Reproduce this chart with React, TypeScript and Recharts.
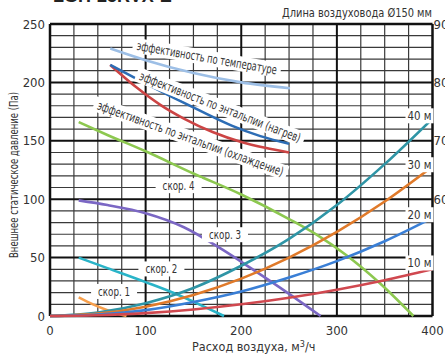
import { LineChart, Line, XAxis, YAxis, ReferenceLine, ReferenceDot } from 'recharts'

// fan curves, Pa vs m3/h
const speed1 = [
  { x: 30, y: 16 }, { x: 45, y: 10 }, { x: 60, y: 5 }, { x: 80, y: 0 },
]
const speed2 = [
  { x: 30, y: 50 }, { x: 60, y: 41 }, { x: 100, y: 29 }, { x: 130, y: 19.5 }, { x: 160, y: 8.5 }, { x: 182, y: 0 },
]
const speed3 = [
  { x: 30, y: 99 }, { x: 60, y: 95 }, { x: 100, y: 88 }, { x: 140, y: 76 }, { x: 180, y: 57 },
  { x: 210, y: 41 }, { x: 250, y: 19 }, { x: 283, y: 0 },
]
const speed4 = [
  { x: 30, y: 166 }, { x: 60, y: 155 }, { x: 100, y: 141 }, { x: 150, y: 122 }, { x: 200, y: 104 },
  { x: 250, y: 83 }, { x: 280, y: 69 }, { x: 310, y: 52 }, { x: 345, y: 28 }, { x: 380, y: 0 },
]

// duct resistance, Pa
const duct40 = [
  { x: 0, y: 0 }, { x: 50, y: 3 }, { x: 100, y: 11 }, { x: 150, y: 24 }, { x: 200, y: 43 },
  { x: 250, y: 66 }, { x: 300, y: 95 }, { x: 350, y: 130 }, { x: 400, y: 169 },
]
const duct30 = [
  { x: 0, y: 0 }, { x: 50, y: 2 }, { x: 100, y: 8 }, { x: 150, y: 18 }, { x: 200, y: 32 },
  { x: 250, y: 50 }, { x: 300, y: 72 }, { x: 350, y: 98 }, { x: 400, y: 128 },
]
const duct20 = [
  { x: 0, y: 0 }, { x: 50, y: 1.3 }, { x: 100, y: 5 }, { x: 150, y: 12 }, { x: 200, y: 21 },
  { x: 250, y: 33 }, { x: 300, y: 47 }, { x: 350, y: 64 }, { x: 400, y: 84 },
]
const duct10 = [
  { x: 0, y: 0 }, { x: 50, y: 0.6 }, { x: 100, y: 2.5 }, { x: 150, y: 5.6 }, { x: 200, y: 10 },
  { x: 250, y: 15.6 }, { x: 300, y: 22.5 }, { x: 350, y: 30.6 }, { x: 400, y: 40 },
]

// efficiency, % (right axis)
const effTemp = [
  { x: 63, y: 85.8 }, { x: 100, y: 83.8 }, { x: 150, y: 81.6 }, { x: 200, y: 80 }, { x: 251, y: 79 },
]
const effHeat = [
  { x: 63, y: 83 }, { x: 100, y: 79.8 }, { x: 130, y: 77.3 }, { x: 160, y: 74.9 }, { x: 190, y: 72.6 },
  { x: 220, y: 70.8 }, { x: 250, y: 69.5 },
]
const effCool = [
  { x: 63, y: 83 }, { x: 90, y: 79.2 }, { x: 115, y: 76.2 }, { x: 140, y: 73.8 }, { x: 170, y: 71.5 },
  { x: 200, y: 69.8 }, { x: 225, y: 68.8 }, { x: 250, y: 68 },
]

const xTicks = [0, 100, 200, 300, 400]
const yTicks = [0, 50, 100, 150, 200, 250]
const rightTicks = [60, 70, 80, 90]
const gridX = [25, 50, 75, 125, 150, 175, 225, 250, 275, 325, 350, 375]
const gridXMajor = [100, 200, 300]
const gridY = [10, 20, 30, 40, 60, 70, 80, 90, 110, 120, 130, 140, 160, 170, 180, 190, 210, 220, 230, 240]
const gridYMajor = [50, 100, 150, 200]

const FONT = '"Liberation Sans Narrow", "DejaVu Sans Condensed", "Roboto", sans-serif'
const TXT = '#333'

// text with a white box behind it, squeezed to the given length
function boxLabel(text: string, angle: number, len: number, boxW: number, anchor: 'middle' | 'end' = 'middle') {
  return (props: any) => {
    const { cx, cy } = props
    const x0 = anchor === 'middle' ? -boxW / 2 : -boxW + 1
    return (
      <g transform={`translate(${cx},${cy}) rotate(${angle})`}>
        <rect x={x0} y={-7.5} width={boxW} height={15} fill="#fff" />
        <text
          x={anchor === 'middle' ? 0 : -1}
          y={0}
          dy="0.35em"
          textAnchor={anchor}
          fontFamily={FONT}
          fontSize={12.5}
          fill={TXT}
          textLength={len}
          lengthAdjust="spacingAndGlyphs"
        >
          {text}
        </text>
      </g>
    )
  }
}

const series = [
  { d: effTemp, c: '#9dbfe6', axis: 'right' },
  { d: effCool, c: '#cc4444', axis: 'right' },
  { d: effHeat, c: '#2d6db5', axis: 'right' },
  { d: speed4, c: '#8dc850', axis: 'left' },
  { d: speed3, c: '#7b67c4', axis: 'left' },
  { d: speed2, c: '#2ab4c8', axis: 'left' },
  { d: speed1, c: '#f7a04d', axis: 'left' },
  { d: duct40, c: '#2f95a6', axis: 'left' },
  { d: duct30, c: '#e07a2a', axis: 'left' },
  { d: duct20, c: '#3a7fd6', axis: 'left' },
  { d: duct10, c: '#d0484f', axis: 'left' },
]

export default function App() {
  return (
    <div style={{ position: 'fixed', left: 0, top: 0, width: 445, height: 362, background: '#fff' }}>
      <LineChart width={445} height={362} margin={{ top: 24, right: 0, bottom: 0, left: 0 }}>
        <XAxis
          dataKey="x"
          type="number"
          domain={[0, 400]}
          ticks={xTicks}
          allowDataOverflow
          tickLine={false}
          axisLine={false}
          height={46}
          tickMargin={4}
          tick={{ fontFamily: FONT, fontSize: 13, fill: TXT }}
        />
        <YAxis
          yAxisId="left"
          type="number"
          domain={[0, 250]}
          ticks={yTicks}
          tickLine={false}
          axisLine={false}
          width={50}
          tickSize={3}
          tickMargin={2}
          tick={{ fontFamily: FONT, fontSize: 13, fill: TXT }}
        />
        <YAxis
          yAxisId="right"
          orientation="right"
          type="number"
          domain={[40, 90]}
          ticks={rightTicks}
          tickLine={false}
          axisLine={false}
          width={12.5}
          tickSize={1}
          tickMargin={0}
          tick={{ fontFamily: FONT, fontSize: 13, fill: TXT, textAnchor: 'start' }}
        />
        {gridY.map((v) => (
          <ReferenceLine key={'gy' + v} yAxisId="left" y={v} stroke="#3a3a3a" strokeWidth={1.2} />
        ))}
        {gridX.map((v) => (
          <ReferenceLine key={'gx' + v} yAxisId="left" x={v} stroke="#3a3a3a" strokeWidth={1.2} />
        ))}
        {gridYMajor.map((v) => (
          <ReferenceLine key={'gY' + v} yAxisId="left" y={v} stroke="#111" strokeWidth={2} />
        ))}
        {gridXMajor.map((v) => (
          <ReferenceLine key={'gX' + v} yAxisId="left" x={v} stroke="#111" strokeWidth={2} />
        ))}
        <ReferenceLine yAxisId="left" y={0} stroke="#111" strokeWidth={2.5} />
        <ReferenceLine yAxisId="left" y={250} stroke="#111" strokeWidth={2.5} />
        <ReferenceLine yAxisId="left" x={0} stroke="#111" strokeWidth={2.5} />
        <ReferenceLine yAxisId="left" x={400} stroke="#111" strokeWidth={2.5} />
        {series.map((s, i) => (
          <Line
            key={i}
            yAxisId={s.axis}
            data={s.d}
            dataKey="y"
            type="monotone"
            stroke={s.c}
            strokeWidth={2.6}
            dot={false}
            isAnimationActive={false}
          />
        ))}
        <ReferenceDot yAxisId="left" x={164} y={221} ifOverflow="visible" shape={boxLabel('эффективность по температуре', 10, 142, 150)} />
        <ReferenceDot yAxisId="left" x={178} y={179} ifOverflow="visible" shape={boxLabel('эффективность по энтальпии (нагрев)', 21.5, 172, 180)} />
        <ReferenceDot yAxisId="left" x={147} y={152} ifOverflow="visible" shape={boxLabel('эффективность по энтальпии (охлаждение)', 20, 197, 205)} />
        <ReferenceDot yAxisId="left" x={67} y={21} ifOverflow="visible" shape={boxLabel('скор. 1', 0, 32, 46)} />
        <ReferenceDot yAxisId="left" x={116.5} y={40.3} ifOverflow="visible" shape={boxLabel('скор. 2', 0, 32, 46)} />
        <ReferenceDot yAxisId="left" x={183} y={69.6} ifOverflow="visible" shape={boxLabel('скор. 3', 0, 32, 46)} />
        <ReferenceDot yAxisId="left" x={134.5} y={111.6} ifOverflow="visible" shape={boxLabel('скор. 4', 0, 32, 46)} />
        <ReferenceDot yAxisId="left" x={400} y={171.4} ifOverflow="visible" shape={boxLabel('40 м', 0, 24, 28, 'end')} />
        <ReferenceDot yAxisId="left" x={400} y={129.5} ifOverflow="visible" shape={boxLabel('30 м', 0, 24, 28, 'end')} />
        <ReferenceDot yAxisId="left" x={400} y={86.7} ifOverflow="visible" shape={boxLabel('20 м', 0, 24, 28, 'end')} />
        <ReferenceDot yAxisId="left" x={400} y={45.4} ifOverflow="visible" shape={boxLabel('10 м', 0, 24, 28, 'end')} />
      </LineChart>
      <svg width={445} height={362} style={{ position: 'absolute', left: 0, top: 0, pointerEvents: 'none' }}>
        <text x={53} y={2} fontFamily="Liberation Sans, sans-serif" fontWeight="bold" fontSize={18} fill="#222">
          LGH-25RVX-E
        </text>
        <text
          x={432}
          y={17}
          textAnchor="end"
          fontFamily={FONT}
          fontSize={13}
          fill={TXT}
          textLength={150}
          lengthAdjust="spacingAndGlyphs"
        >
          Длина воздуховода Ø150 мм
        </text>
        <text
          transform="translate(18,175) rotate(-90)"
          textAnchor="middle"
          fontFamily={FONT}
          fontSize={12}
          fill={TXT}
          textLength={166}
          lengthAdjust="spacingAndGlyphs"
        >
          Внешнее статическое давление (Па)
        </text>
        <text x={192} y={351} fontFamily={FONT} fontSize={12.5} fill={TXT}>
          Расход воздуха, м<tspan dy={-4} fontSize={9}>3</tspan>
          <tspan dy={4}>/ч</tspan>
        </text>
      </svg>
    </div>
  )
}
